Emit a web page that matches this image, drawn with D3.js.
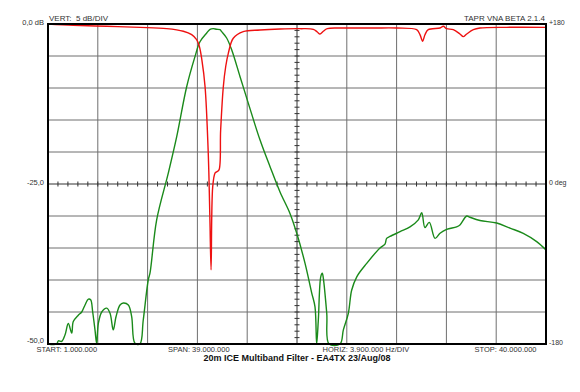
<!DOCTYPE html>
<html>
<head>
<meta charset="utf-8">
<script src="https://cdn.jsdelivr.net/npm/d3@7"></script>
<style>
  html, body { margin: 0; padding: 0; background: #fff; }
  svg { display: block; font-family: "Liberation Sans", Arial, sans-serif; }
  text { white-space: pre; }
</style>
</head>
<body>
<div id="chart"></div>
<script>
// VNA sweep 1..40 MHz, magnitude in dB
const redFreq = [1.0, 2.98, 5.6, 8.2, 10.3, 11.6, 12.25, 12.64, 12.85, 13.05, 13.3, 13.55, 13.68, 13.77, 13.9, 14.08, 14.21, 14.39, 14.52, 14.73, 14.92, 15.12, 15.51, 16.29, 17.6, 19.17, 20.73, 21.78, 22.09, 22.3, 22.56, 22.87, 23.87, 26.47, 28.31, 29.87, 30.13, 30.34, 30.52, 30.78, 31.7, 31.96, 32.22, 32.74, 33.26, 33.52, 33.79, 34.31, 34.83, 36.92, 40.0];
const redDb = [0.0, -0.2, -0.36, -0.52, -0.73, -1.14, -1.67, -2.45, -3.48, -5.6, -9.8, -20.2, -30.5, -38.4, -25.4, -23.3, -23.1, -22.8, -16.6, -9.8, -6.6, -4.58, -2.23, -1.2, -0.94, -0.78, -0.73, -0.83, -1.25, -1.56, -1.14, -0.73, -0.63, -0.63, -0.63, -0.89, -1.67, -2.7, -1.67, -0.89, -0.63, -0.36, -0.73, -0.89, -1.56, -1.98, -1.56, -0.89, -0.63, -0.52, -0.52];

const greenFreq = [1.0, 1.68, 1.81, 2.07, 2.33, 2.59, 2.86, 2.98, 3.37, 3.64, 3.9, 4.16, 4.34, 4.5, 4.68, 4.81, 4.94, 5.21, 5.6, 5.86, 6.11, 6.33, 6.64, 6.9, 7.29, 7.55, 7.81, 8.2, 8.46, 8.85, 8.99, 9.51, 10.42, 11.08, 11.86, 12.51, 12.9, 13.43, 13.69, 13.94, 14.21, 14.47, 14.6, 14.99, 15.39, 16.04, 16.69, 17.6, 18.39, 19.17, 19.95, 20.48, 21.13, 21.65, 21.91, 22.04, 22.17, 22.36, 22.48, 22.56, 22.83, 23.01, 23.87, 24.13, 24.52, 24.78, 25.18, 25.96, 27.0, 27.39, 27.52, 27.78, 28.57, 29.35, 30.0, 30.27, 30.52, 30.86, 31.31, 31.7, 32.22, 33.0, 33.26, 33.79, 34.05, 34.83, 36.14, 37.18, 38.22, 39.27, 40.0];
const greenDb = [-50, -50, -49.5, -49.6, -48.6, -46.8, -48.3, -46.5, -45.5, -45.0, -43.9, -43.0, -43.1, -45.0, -47.8, -49.9, -46.8, -45.0, -44.4, -45.2, -47.8, -45.7, -43.9, -43.6, -43.9, -45.7, -49.9, -50, -46.25, -40.0, -38.9, -30.6, -23.3, -17.6, -9.8, -5.1, -2.77, -1.41, -0.83, -0.73, -0.83, -0.89, -1.2, -2.19, -4.06, -8.23, -12.4, -18.1, -22.3, -26.25, -29.6, -32.7, -37.4, -42.0, -44.2, -50, -46.25, -39.5, -38.95, -39.7, -45.2, -50, -50, -47.8, -45.2, -41.6, -39.5, -37.4, -35.0, -34.4, -33.5, -33.2, -32.45, -31.7, -30.6, -29.5, -31.8, -31.0, -33.5, -32.7, -32.1, -31.7, -31.4, -30.0, -30.2, -30.7, -31.1, -31.9, -32.7, -34.0, -35.3];

const leftLabels = ['0,0 dB', '-25,0', '-50,0'];
const leftValues = [0, -25, -50];
const rightLabels = ['+180', '0 deg', '-180'];
const rightValues = [180, 0, -180];
const bottomLabels = ['START: 1.000.000', 'SPAN: 39.000.000', 'HORIZ: 3.900.000 Hz/DIV', 'STOP: 40.000.000'];
const bottomFreqs = [0.1, 10.4, 22.5, 34.4];
const title = '20m ICE Multiband Filter - EA4TX 23/Aug/08';

const W = 580, H = 392;
const P = { left: 48, right: 546, top: 24, bottom: 344 };

const x = d3.scaleLinear().domain([1, 40]).range([P.left, P.right]);
const y = d3.scaleLinear().domain([-50, 0]).range([P.bottom, P.top]);
const yPhase = d3.scaleLinear().domain([-180, 180]).range([P.bottom, P.top]);

const svg = d3.select('#chart').append('svg')
    .attr('width', W).attr('height', H);

// grid
const xGrid = d3.range(11).map(i => 1 + i * 3.9);
const yGrid = d3.range(11).map(i => -i * 5);

svg.append('g').selectAll('line')
    .data(xGrid.slice(1, -1).filter((d, i) => i !== 4))
    .join('line')
    .attr('x1', d => x(d)).attr('x2', d => x(d))
    .attr('y1', P.top).attr('y2', P.bottom)
    .attr('stroke', '#6e6e6e').attr('stroke-width', 1);

svg.append('g').selectAll('line')
    .data(yGrid.slice(1, -1).filter((d, i) => i !== 4))
    .join('line')
    .attr('x1', P.left).attr('x2', P.right)
    .attr('y1', d => y(d)).attr('y2', d => y(d))
    .attr('stroke', '#6e6e6e').attr('stroke-width', 1);

// center axes with minor ticks
const midF = 1 + 5 * 3.9;
svg.append('line')
    .attr('x1', x(midF)).attr('x2', x(midF))
    .attr('y1', P.top).attr('y2', P.bottom)
    .attr('stroke', '#333').attr('stroke-width', 1);
svg.append('line')
    .attr('x1', P.left).attr('x2', P.right)
    .attr('y1', y(-25)).attr('y2', y(-25))
    .attr('stroke', '#333').attr('stroke-width', 1);

const minorX = d3.range(51).map(i => 1 + i * 0.78);
svg.append('g').selectAll('line')
    .data(minorX)
    .join('line')
    .attr('x1', d => x(d)).attr('x2', d => x(d))
    .attr('y1', y(-25) - 2.5).attr('y2', y(-25) + 2.5)
    .attr('stroke', '#333').attr('stroke-width', 1);

const minorY = d3.range(51).map(i => -i);
svg.append('g').selectAll('line')
    .data(minorY)
    .join('line')
    .attr('x1', x(midF) - 2.5).attr('x2', x(midF) + 2.5)
    .attr('y1', d => y(d)).attr('y2', d => y(d))
    .attr('stroke', '#333').attr('stroke-width', 1);

// curves
const line = d3.line()
    .x(d => x(d[0]))
    .y(d => y(Math.max(-50, d[1])))
    .curve(d3.curveCatmullRom.alpha(0.5));

svg.append('path')
    .datum(greenFreq.map((f, i) => [f, greenDb[i]]))
    .attr('fill', 'none')
    .attr('stroke', '#1a8a1a')
    .attr('stroke-width', 1.4)
    .attr('stroke-linejoin', 'round')
    .attr('d', line);

svg.append('path')
    .datum(redFreq.map((f, i) => [f, redDb[i]]))
    .attr('fill', 'none')
    .attr('stroke', '#ee1111')
    .attr('stroke-width', 1.4)
    .attr('stroke-linejoin', 'round')
    .attr('d', line);

// frame
svg.append('rect')
    .attr('x', P.left).attr('y', P.top)
    .attr('width', P.right - P.left).attr('height', P.bottom - P.top)
    .attr('fill', 'none').attr('stroke', '#000').attr('stroke-width', 2);

// labels
const txt = (sx, sy, t, anchor, opts = {}) =>
    svg.append('text')
        .attr('x', sx).attr('y', sy)
        .attr('text-anchor', anchor)
        .attr('dominant-baseline', 'middle')
        .attr('font-size', opts.size || 7.5)
        .attr('font-weight', opts.bold ? 'bold' : 'normal')
        .attr('fill', opts.fill || '#333')
        .text(t);

leftLabels.forEach((t, i) => txt(P.left - 4, y(leftValues[i]) - (i === 2 ? 3 : 1), t, 'end'));
rightLabels.forEach((t, i) => txt(P.right + 3, yPhase(rightValues[i]) - 1, t, 'start', { size: 7 }));

txt(P.left + 1, P.top - 5, 'VERT:  5 dB/DIV', 'start', { size: 8 });
txt(P.right - 1, P.top - 5, 'TAPR VNA BETA 2.1.4', 'end', { size: 8 });

bottomLabels.forEach((t, i) => txt(x(bottomFreqs[i]), P.bottom + 6.5, t, 'start', { size: 7.5 }));

txt(x(midF), P.bottom + 15, title, 'middle', { size: 9, bold: true, fill: '#111' });
</script>
</body>
</html>
